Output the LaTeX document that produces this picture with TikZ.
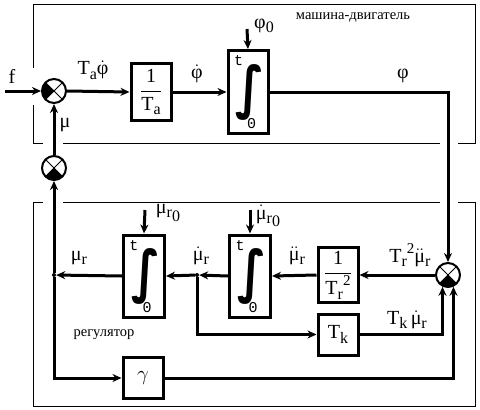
\documentclass[tikz,border=0pt]{standalone}
\usepackage{amsmath}
\usepackage{graphicx}
\usepackage{fontspec}
\setmainfont{Liberation Serif}
\newfontfamily\limfont{Liberation Mono}
\newfontfamily\intfont{DejaVu Sans}
\usetikzlibrary{arrows.meta}

\newcommand{\lowsub}[1]{\raisebox{-0.45ex}{\fontsize{16}{16}\selectfont #1}}
\newcommand{\highsup}[1]{\raisebox{1.0ex}{\fontsize{15}{15}\selectfont #1}}
\newcommand{\pdot}[1]{$\dot{\text{#1}}$}
\newcommand{\ppdot}[1]{$\ddot{\text{#1}}$}
\newcommand{\intsign}{\hspace{3pt}\scalebox{1.25}[1.5]{\intfont\bfseries\itshape\fontsize{38}{38}\selectfont ∫}}

\tikzset{
  blk/.style={draw, line width=3pt, inner sep=0pt, minimum width=40pt},
  sum/.style 2 args={circle, draw, line width=2pt, minimum size=24pt, inner sep=0pt,
    path picture={
      \fill (path picture bounding box.center) -- (path picture bounding box.#1)
        -- (path picture bounding box.#2) -- cycle;
      \draw[line width=0.8pt] (path picture bounding box.north west) -- (path picture bounding box.south east)
        (path picture bounding box.north east) -- (path picture bounding box.south west);}},
  wire/.style={line width=3pt, -{Stealth[length=9pt,width=8pt]}},
  frame/.style={line width=0.9pt},
  dot/.style={circle, fill, inner sep=0pt, minimum size=4pt},
  lim/.style={font=\limfont\fontsize{15}{15}\selectfont, inner sep=0pt},
}

\begin{document}
\begin{tikzpicture}[x=1pt, y=-1pt, font=\fontsize{20}{22}\selectfont]
    \useasboundingbox (0,0) rectangle (480,410);

    % frames
    \draw[frame] (33,68) -- (33,4) -- (475,4) -- (475,143) -- (458,143);
    \draw[frame] (440,143) -- (63,143);
    \draw[frame] (43,143) -- (33,143) -- (33,105);
    \draw[frame] (43,202) -- (33,202) -- (33,406) -- (475,406) -- (475,202) -- (458,202);
    \draw[frame] (440,202) -- (63,202);
    \node[font=\fontsize{14.5}{15}\selectfont] (machine) at (353,17) {машина-двигатель};
    \node[font=\fontsize{14.5}{15}\selectfont] (regul) at (104,335) {регулятор};

    % upper loop
    \coordinate (fin) at (5,91);
    \node[sum={north west}{south west}] (s1) at (54,91) {};
    \node[blk, minimum height=57pt] (ta) at (151,92) {$\dfrac{\text{1}}{\text{T\lowsub{a}}}$};
    \node[blk, minimum width=40pt, minimum height=83pt] (iphi) at (248,92) {\intsign};
    \node[lim] (iphit) at ([shift={(12,12)}]iphi.north west) {t};
    \node[lim] (iphio) at ([shift={(25,-11)}]iphi.south west) {0};
    \coordinate (phio) at (247,29);

    \draw[wire] (fin) -- (s1.west);
    \draw[wire] (s1.east) -- (ta.west);
    \draw[wire] (ta.east) -- (iphi.west);
    \draw[wire] (phio) -- (iphi.north);

    \node (lf) at (12,76) {f};
    \node (ltaphi) at (93,70) {T\lowsub{a}\pdot{φ}};
    \node (ldphi) at (197,74) {\pdot{φ}};
    \node (lphio) at (264,26) {φ\lowsub{0}};
    \node (lphi) at (403,76) {φ};

    % regulator
    \node[sum={south west}{south east}] (s2) at (54,168) {};
    \node[sum={south west}{south east}] (s3) at (448,275) {};
    \node[blk, minimum height=55pt] (tr) at (338,275) {$\dfrac{\text{1}}{\text{T\lowsub{r}\highsup{2}}}$};
    \node[blk, minimum width=41pt, minimum height=82pt] (imud) at (250,276) {\intsign};
    \node[lim] (imudt) at ([shift={(12,12)}]imud.north west) {t};
    \node[lim] (imudo) at ([shift={(25,-11)}]imud.south west) {0};
    \node[blk, minimum width=41pt, minimum height=82pt] (imu) at (144,276) {\intsign};
    \node[lim] (imut) at ([shift={(12,12)}]imu.north west) {t};
    \node[lim] (imuo) at ([shift={(25,-11)}]imu.south west) {0};
    \node[blk, minimum height=41pt] (tk) at (338,334.5) {T\lowsub{k}};
    \node[blk, minimum height=41pt] (gam) at (143,378) {$\gamma$};
    \node[dot] (b1) at (197,275) {};
    \node[dot] (b2) at (54,275) {};
    \coordinate (mudo) at (250,210);
    \coordinate (muo) at (145,210);

    \draw[wire] (iphi.east) -| (s3.north);
    \draw[wire] (s3.west) -- (tr.east);
    \draw[wire] (tr.west) -- (imud.east);
    \draw[wire] (imud.west) -- (b1);
    \draw[wire] (b1) -- (imu.east);
    \draw[wire] (imu.west) -- (b2);
    \draw[wire] (b2) -- (s2.south);
    \draw[wire] (s2.north) -- (s1.south);
    \draw[wire] (b2) |- (gam.west);
    \draw[wire] (b1) |- (tk.west);
    \draw[wire] (tk.east) -| (s3.-115);
    \draw[wire] (gam.east) -| (s3.-65);
    \draw[wire] (mudo) -- (imud.north);
    \draw[wire] (muo) -- (imu.north);

    \node (lmu) at (65,125) {μ};
    \node (lmur) at (79,258) {μ\lowsub{r}};
    \node (lmuro) at (168,213) {μ\lowsub{r\lowsub{0}}};
    \node (ldmur) at (201,256) {\pdot{μ}\lowsub{r}};
    \node (ldmuro) at (268,216) {\pdot{μ}\lowsub{r\lowsub{0}}};
    \node (lddmur) at (297,256) {\ppdot{μ}\lowsub{r}};
    \node (ltrmu) at (410,255) {T\lowsub{r}\highsup{2}\ppdot{μ}\lowsub{r}};
    \node (ltkmu) at (407,320) {T\lowsub{k}\,\pdot{μ}\lowsub{r}};

\end{tikzpicture}
\end{document}
